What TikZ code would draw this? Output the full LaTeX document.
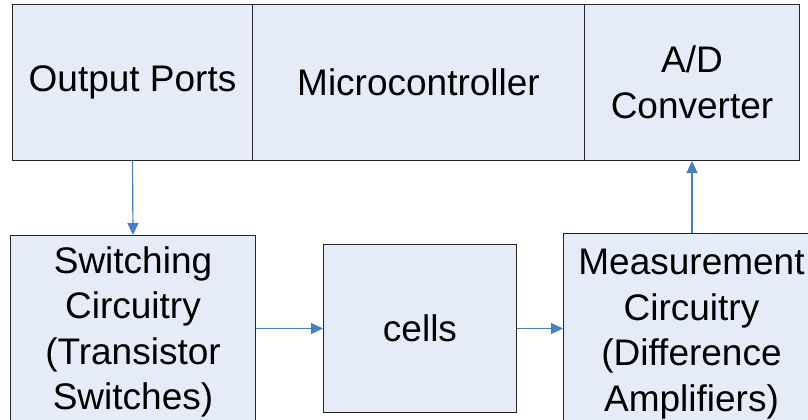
\documentclass[tikz,border=0pt]{standalone}
\usepackage{fontspec}
\setmainfont{Liberation Sans}
\usetikzlibrary{arrows.meta}
\definecolor{boxfill}{HTML}{E6ECF7}
\definecolor{arrowblue}{HTML}{4A7EC3}
\begin{document}
\begin{tikzpicture}[x=1pt,y=-1pt,
  box/.style={draw=black!85, line width=1pt, fill=boxfill, inner sep=0pt,
    align=center, font=\fontsize{37}{45.5}\selectfont, anchor=north west},
  link/.style={draw=arrowblue, line width=1.2pt, -{Triangle[length=12pt,width=11pt]}}]
\clip (0,0) rectangle (808,420);
\fill[white] (0,0) rectangle (808,420);
\node[box, minimum width=240, minimum height=156] (op) at (12,4) {Output Ports};
\node[box, minimum width=332, minimum height=156] (mc) at (252,4) {Microcontroller};
\node[box, minimum width=215, minimum height=156] (ad) at (584,4) {A/D\\Converter};
\node[box, minimum width=245, minimum height=193] (sw) at (10,235) {Switching\\Circuitry\\(Transistor\\Switches)};
\node[box, minimum width=193, minimum height=168] (cells) at (323,244) {cells};
\node[box, minimum width=256, minimum height=201] (ms) at (563,233) {Measurement\\Circuitry\\(Difference\\Amplifiers)};
\draw[link] (op.south) -- (sw.north);
\draw[link] (sw.east |- cells.west) -- (cells.west);
\draw[link] (cells.east) -- (ms.west |- cells.east);
\draw[link] (ms.north -| ad.south) -- (ad.south);
\end{tikzpicture}
\end{document}
